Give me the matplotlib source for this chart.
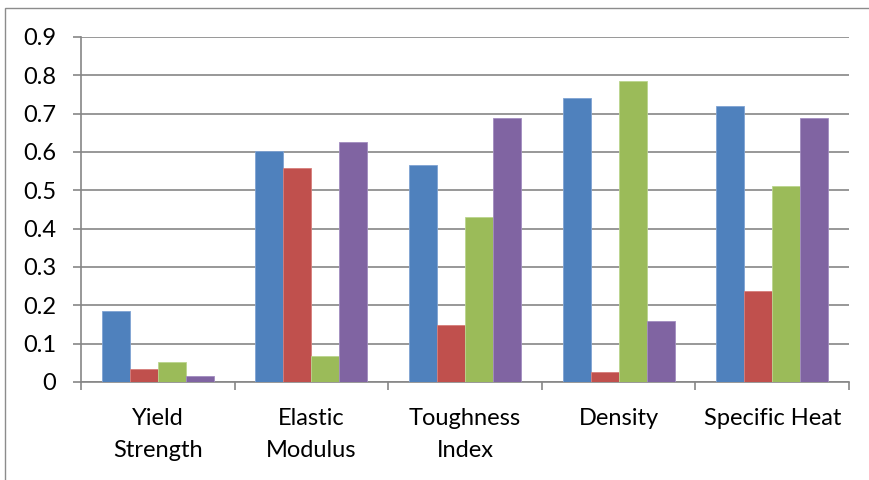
import numpy as np
import matplotlib
matplotlib.use('Agg')
import matplotlib.pyplot as plt
from matplotlib.patches import Rectangle

# data
categories = ['Yield\nStrength', 'Elastic\nModulus', 'Toughness\nIndex', 'Density', 'Specific Heat']
series1 = [0.185, 0.603, 0.567, 0.740, 0.720]
series2 = [0.035, 0.558, 0.148, 0.025, 0.237]
series3 = [0.052, 0.067, 0.430, 0.785, 0.510]
series4 = [0.015, 0.626, 0.690, 0.158, 0.688]
yticks = [0, 0.1, 0.2, 0.3, 0.4, 0.5, 0.6, 0.7, 0.8, 0.9]

colors = ['#4F81BD', '#C0504D', '#9BBB59', '#8064A2']
edges = ['#7FA3D3', '#D67E7B', '#BBD58E', '#A28CC0']

plt.rcParams['font.family'] = ['Lato', 'DejaVu Sans']

fig = plt.figure(figsize=(8.7, 4.8), dpi=100, facecolor='white')
ax = fig.add_axes([81/870, 1 - 382/480, 768/870, 345/480])

# outer chart border (only top/left visible in reference)
fig.patches.append(Rectangle((5/870, -0.1), 1.2, 1 - 8/480 + 0.1, transform=fig.transFigure,
                             fill=False, edgecolor='#8C8C8C', linewidth=1.0, clip_on=False))

x = np.arange(len(categories))
w = 0.182
for i, vals in enumerate([series1, series2, series3, series4]):
    ax.bar(x + (i - 1.5) * w, vals, width=w, color=colors[i], edgecolor=edges[i],
           linewidth=0.6, zorder=3)

ax.set_xlim(-0.5, len(categories) - 0.5)
ax.set_ylim(0, 0.9)
ax.set_yticks(yticks)
ax.set_yticklabels(['0' if v == 0 else '%.1f' % v for v in yticks], fontsize=17)
ax.yaxis.grid(True, color='#868686', linewidth=1.2, zorder=0)
ax.tick_params(axis='y', length=6, width=1.2, color='#868686', pad=12)

ax.set_xticks(np.arange(len(categories) + 1) - 0.5)
ax.set_xticklabels([])
ax.tick_params(axis='x', length=5.5, width=1.2, color='#868686')
ax.set_xticks(x, minor=True)
ax.set_xticklabels(categories, minor=True, fontsize=17, linespacing=1.65)
ax.tick_params(axis='x', which='minor', length=0, pad=19)

for s in ['top', 'right']:
    ax.spines[s].set_visible(False)
for s in ['left', 'bottom']:
    ax.spines[s].set_color('#868686')
    ax.spines[s].set_linewidth(1.2)

fig.savefig('out.png', dpi=100, facecolor='white')
